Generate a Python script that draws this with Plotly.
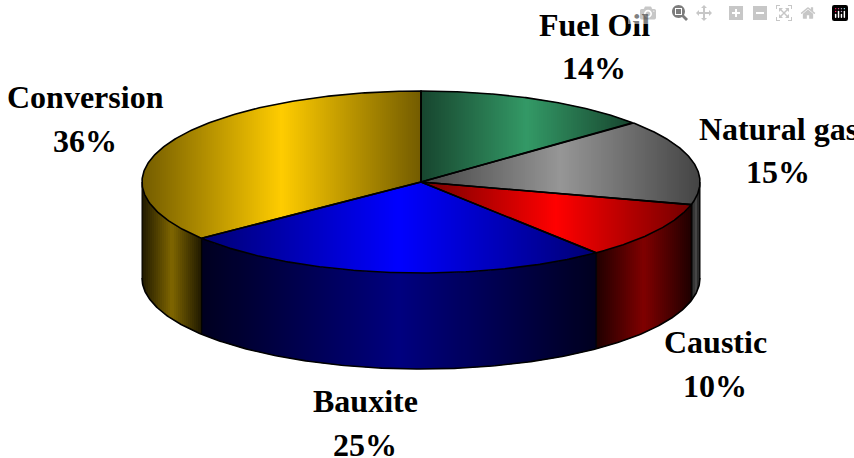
import numpy as np
import plotly.graph_objs as go

# Values, the printed labels are these rounded
categories = ["Fuel Oil", "Natural gas", "Caustic", "Bauxite", "Conversion"]
shares = [13.7, 15.3, 10.2, 25.2, 35.6]
colors = [(51, 153, 102), (150, 150, 150), (255, 0, 0), (0, 0, 255), (255, 204, 0)]

# Pie geometry in page pixels
CX, CY = 421, 182
RX, RY = 279, 91
DEPTH = 96
STRIP = 2

# line 1 / line 2 label centres
label_pos = {
    "Fuel Oil": (594, 25, 68),
    "Natural gas": (778, 129, 172),
    "Caustic": (715, 342, 386),
    "Bauxite": (365, 401, 445),
    "Conversion": (85, 97, 141),
}
FONT = dict(family="Liberation Sans Narrow", size=32, color="black")


def rim(a0, a1, n=200):
    # points along the top rim, angle clockwise from 12 o'clock
    t = np.radians(np.linspace(a0, a1, n))
    return CX + RX * np.sin(t), CY - RY * np.cos(t)


def clip_x(xs, ys, x0, x1):
    # clip a polygon to a vertical band
    pts = list(zip(xs, ys))
    for limit, sign in ((x0, 1), (x1, -1)):
        out = []
        for i in range(len(pts)):
            p, q = pts[i - 1], pts[i]
            dp, dq = sign * (p[0] - limit), sign * (q[0] - limit)
            if dp * dq < 0:
                k = dp / (dp - dq)
                out.append((p[0] + k * (q[0] - p[0]), p[1] + k * (q[1] - p[1])))
            if dq >= 0:
                out.append(q)
        pts = out
        if not pts:
            break
    return pts


def shade(color, factor):
    return "rgb(%d,%d,%d)" % tuple(int(round(c * factor)) for c in color)


def add_gradient(fig, xs, ys, color, centre, drop):
    # left to right strips, each one overlaps the next so no seams show
    left, right = min(xs), max(xs)
    for x0 in np.arange(np.floor(left), right, STRIP):
        pts = clip_x(xs, ys, x0, x0 + STRIP + 1.5)
        if len(pts) < 3:
            continue
        t = abs((x0 + STRIP / 2 - left) / (right - left) * 2 - 1)
        fill = shade(color, centre - drop * min(t, 1))
        fig.add_trace(go.Scatter(
            x=[p[0] for p in pts] + [pts[0][0]], y=[p[1] for p in pts] + [pts[0][1]],
            mode="lines", fill="toself", fillcolor=fill, line=dict(width=0), hoverinfo="skip",
        ))


def add_edge(fig, xs, ys, width=1.6):
    fig.add_trace(go.Scatter(
        x=xs, y=ys, mode="lines", line=dict(color="black", width=width), hoverinfo="skip",
    ))


fig = go.Figure()

bounds = np.cumsum([0] + shares) * 3.6

# side wall first, only the part of the rim that faces front (90..270 deg)
for i, color in enumerate(colors):
    a0, a1 = max(bounds[i], 90), min(bounds[i + 1], 270)
    if a0 >= a1:
        continue
    rx, ry = rim(a0, a1)
    add_gradient(fig, np.r_[rx, rx[::-1]], np.r_[ry, ry[::-1] + DEPTH], color, 0.5, 0.38)
    add_edge(fig, [rx[0], rx[0]], [ry[0], ry[0] + DEPTH], 1)
    add_edge(fig, [rx[-1], rx[-1]], [ry[-1], ry[-1] + DEPTH], 1)

# top faces with a dark-bright-dark horizontal gradient
for i, color in enumerate(colors):
    rx, ry = rim(bounds[i], bounds[i + 1])
    add_gradient(fig, np.r_[CX, rx], np.r_[CY, ry], color, 1, 0.55)

# outlines
for i in range(len(colors)):
    rx, ry = rim(bounds[i], bounds[i + 1])
    add_edge(fig, np.r_[CX, rx, CX], np.r_[CY, ry, CY])
rx, ry = rim(90, 270, 300)
add_edge(fig, rx, ry + DEPTH)

for name, share in zip(categories, shares):
    x, y1, y2 = label_pos[name]
    fig.add_annotation(x=x, y=y1, text="<b>%s</b>" % name, showarrow=False, font=FONT)
    fig.add_annotation(x=x, y=y2, text="<b>%d%%</b>" % round(share), showarrow=False, font=FONT)

fig.update_layout(
    width=854, height=458, margin=dict(l=0, r=0, t=0, b=0),
    paper_bgcolor="white", plot_bgcolor="white", showlegend=False,
    xaxis=dict(range=[0, 854], visible=False),
    yaxis=dict(range=[458, 0], visible=False),
)
# page margin would push the plot 8px off
fig.write_html("out.html", post_script="document.body.style.margin='0';")
